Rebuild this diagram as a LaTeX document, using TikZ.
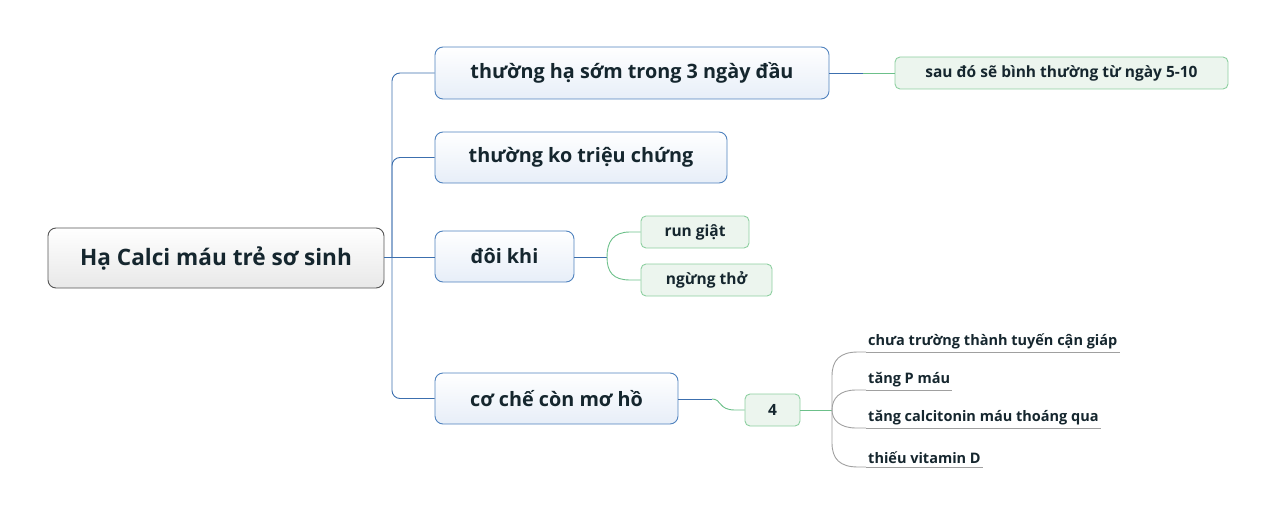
\documentclass[tikz,border=0pt]{standalone}
\usepackage{fontspec}
\setmainfont{Open Sans}
\usetikzlibrary{positioning}
\definecolor{txt}{HTML}{15262E}
\definecolor{bluel}{HTML}{3C6FAE}
\definecolor{blueb}{HTML}{4F82BE}
\definecolor{bluef}{HTML}{E7EEF8}
\definecolor{greenb}{HTML}{8DCFA0}
\definecolor{greenf}{HTML}{ECF5EE}
\definecolor{greenl}{HTML}{6CC08A}
\definecolor{grayl}{HTML}{A0A0A0}
\definecolor{rootb}{HTML}{555555}
\tikzset{
  rootbox/.style={draw=rootb, line width=0.9pt, rounded corners=8pt, top color=white, bottom color=black!9, inner sep=0pt, text=txt, font=\bfseries\fontsize{22.6}{26}\selectfont},
  branchbox/.style={draw=blueb, line width=0.9pt, rounded corners=8pt, top color=white, bottom color=bluef, inner sep=0pt, text=txt, font=\bfseries\fontsize{19.8}{23}\selectfont},
  leafbox/.style={draw=greenb, line width=0.9pt, rounded corners=5pt, fill=greenf, inner sep=0pt, text=txt, font=\bfseries\fontsize{15.5}{18}\selectfont},
  itemtext/.style={inner xsep=2pt, inner ysep=3pt, text=txt, font=\bfseries\fontsize{14.5}{17}\selectfont},
  bline/.style={draw=bluel, line width=0.9pt},
  gline/.style={draw=greenl, line width=0.9pt},
  grline/.style={draw=grayl, line width=0.9pt},
}
\begin{document}
\begin{tikzpicture}[x=1pt,y=1pt]
\useasboundingbox (0,0) rectangle (1276,-516);
% nodes
\node[rootbox, minimum width=336pt, minimum height=60pt] (root) at (216,-258) {Hạ Calci máu trẻ sơ sinh};
\node[branchbox, minimum width=394pt, minimum height=52pt] (b1) at (632,-73) {thường hạ sớm trong 3 ngày đầu};
\node[branchbox, minimum width=292pt, minimum height=51pt] (b2) at (581,-157.5) {thường ko triệu chứng};
\node[branchbox, minimum width=139pt, minimum height=51pt] (b3) at (504.5,-256.5) {đôi khi};
\node[branchbox, minimum width=243pt, minimum height=51pt] (b4) at (556.5,-398.5) {cơ chế còn mơ hồ};
\node[leafbox, minimum width=333pt, minimum height=32pt] (g1) at (1061.5,-73) {sau đó sẽ bình thường từ ngày 5-10};
\node[leafbox, minimum width=108pt, minimum height=32pt] (g2) at (695,-232) {run giật};
\node[leafbox, minimum width=131pt, minimum height=32pt] (g3) at (706.5,-280) {ngừng thở};
\node[leafbox, minimum width=55pt, minimum height=32pt] (g4) at (772.5,-410) {4};
\node[itemtext, anchor=south west] (i1) at (866,-352) {chưa trường thành tuyến cận giáp};
\node[itemtext, anchor=south west] (i2) at (866,-390) {tăng P máu};
\node[itemtext, anchor=south west] (i3) at (866,-428) {tăng calcitonin máu thoáng qua};
\node[itemtext, anchor=south west] (i4) at (866,-467) {thiếu vitamin D};
% coordinates
\coordinate (hub) at (392,-257);
\coordinate (j1) at (863,-73);
\coordinate (j3) at (607,-257);
\coordinate (j4) at (712,-399);
\coordinate (hub4) at (832,-410);
% main trunk
\draw[bline] (root.east |- hub) -- (b3.west |- hub);
\draw[bline, rounded corners=8pt] (b1.west) -| (hub);
\draw[bline, rounded corners=8pt] (b2.west) -| (hub);
\draw[bline, rounded corners=8pt] (b4.west) -| (hub);
% b1 -> g1
\draw[bline] (b1.east) -- (j1);
\draw[gline] (j1) -- (g1.west);
% b3 -> g2,g3
\draw[bline] (b3.east |- j3) -- (j3);
\draw[gline] (j3) .. controls (607,-242) and (613,-232) .. (630,-232) -- (g2.west);
\draw[gline] (j3) .. controls (607,-272) and (613,-280) .. (630,-280) -- (g3.west);
% b4 -> g4
\draw[bline] (b4.east |- j4) -- (j4);
\draw[gline] (j4) .. controls (722,-399) and (718,-410) .. (735,-410) -- (g4.west);
\draw[gline] (g4.east) -- (hub4);
% items
\draw[grline] (hub4) -- (832,-376) .. controls (832,-360) and (840,-352) .. (858,-352) -- (i1.south west);
\draw[grline] (hub4) .. controls (832,-398) and (840,-390) .. (856,-390) -- (i2.south west);
\draw[grline] (hub4) .. controls (832,-420) and (840,-428) .. (856,-428) -- (i3.south west);
\draw[grline] (hub4) -- (832,-443) .. controls (832,-459) and (840,-467) .. (858,-467) -- (i4.south west);
\draw[grline] (i1.south west) -- (i1.south east);
\draw[grline] (i2.south west) -- (i2.south east);
\draw[grline] (i3.south west) -- (i3.south east);
\draw[grline] (i4.south west) -- (i4.south east);
\end{tikzpicture}
\end{document}
